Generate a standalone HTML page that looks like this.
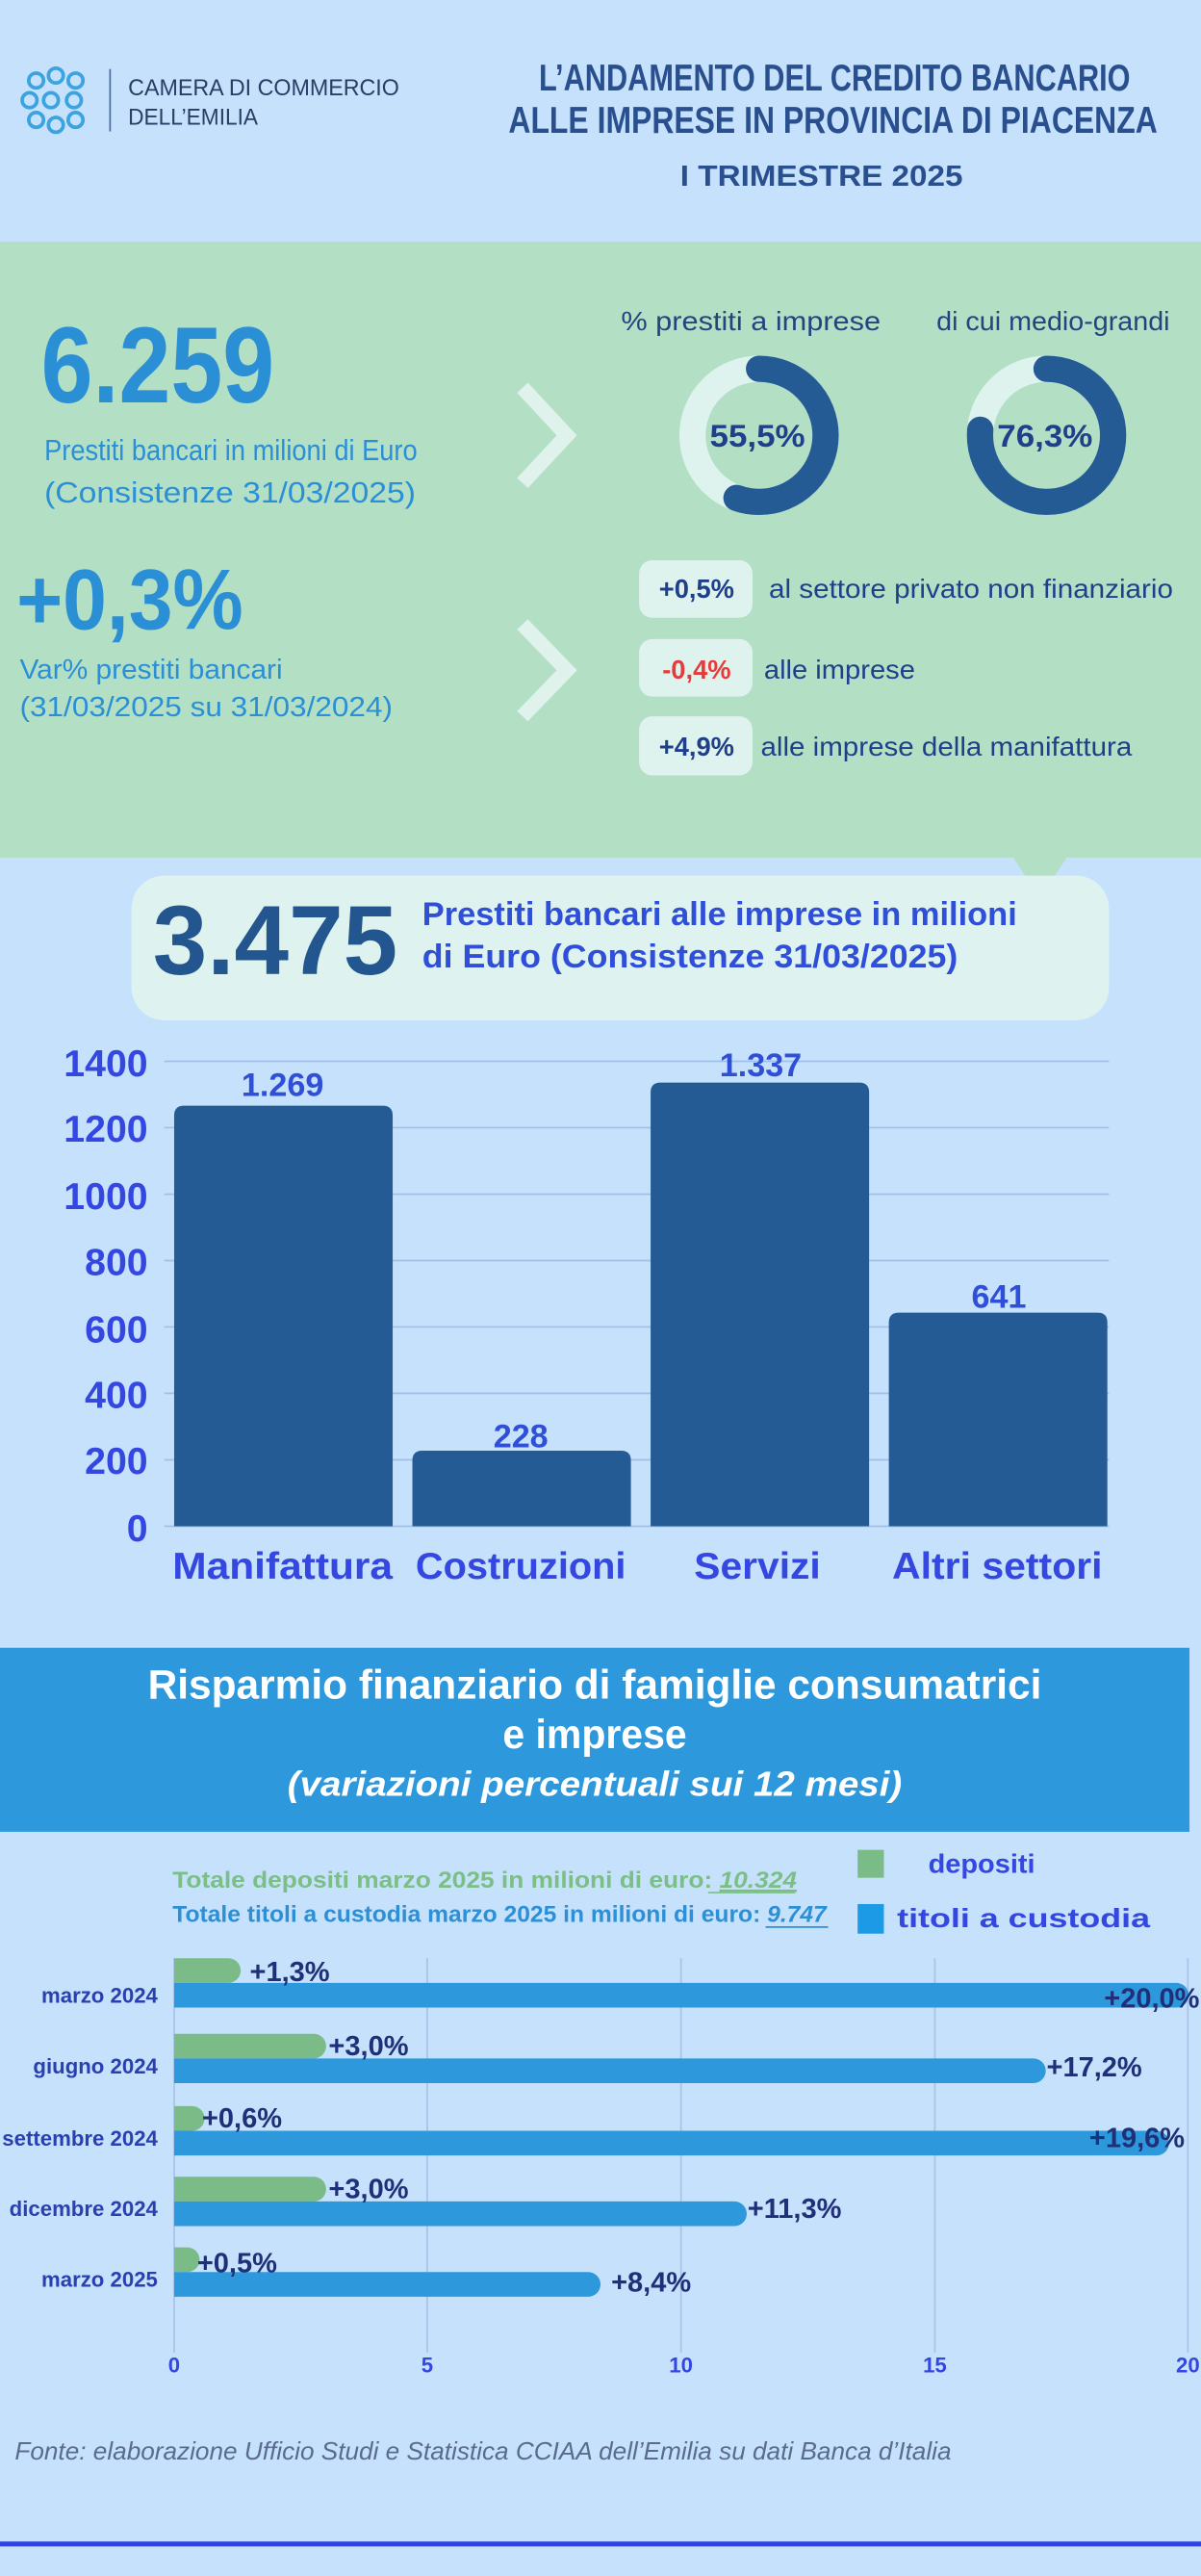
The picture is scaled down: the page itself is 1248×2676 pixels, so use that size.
<!DOCTYPE html>
<html><head><meta charset="utf-8"><style>
html,body{margin:0;padding:0;background:#c6e1fb;}
svg{display:block}
text{font-family:"Liberation Sans Narrow","Liberation Sans",sans-serif;}
</style></head><body>
<svg width="1248" height="2676" viewBox="0 0 731 1568" preserveAspectRatio="none" xmlns="http://www.w3.org/2000/svg">
<rect x="0" y="0" width="731" height="1568" fill="#c6e1fb"/>
<!-- header -->
<g fill="none" stroke="#3aa3e0" stroke-width="2.2">
<circle cx="22" cy="49" r="4.5"/><circle cx="34" cy="46" r="4.5"/><circle cx="46" cy="49" r="4.5"/>
<circle cx="18" cy="61" r="4.5"/><circle cx="31" cy="61" r="4.5"/><circle cx="45" cy="61" r="4.5"/>
<circle cx="22" cy="73" r="4.5"/><circle cx="34" cy="76" r="4.5"/><circle cx="46" cy="73" r="4.5"/>
</g>
<line x1="67" y1="42" x2="67" y2="80" stroke="#4a6a9a" stroke-width="1"/>
<text x="78" y="58" font-size="14" fill="#2a3d66" textLength="165" lengthAdjust="spacingAndGlyphs">CAMERA DI COMMERCIO</text>
<text x="78" y="76" font-size="14" fill="#2a3d66" textLength="79" lengthAdjust="spacingAndGlyphs">DELL’EMILIA</text>
<text x="508" y="55" font-size="23" font-weight="bold" fill="#2a4f8f" text-anchor="middle" textLength="360" lengthAdjust="spacingAndGlyphs">L’ANDAMENTO DEL CREDITO BANCARIO</text>
<text x="507" y="81" font-size="23" font-weight="bold" fill="#2a4f8f" text-anchor="middle" textLength="395" lengthAdjust="spacingAndGlyphs">ALLE IMPRESE IN PROVINCIA DI PIACENZA</text>
<text x="500" y="113" font-size="18" font-weight="bold" fill="#2a4f8f" text-anchor="middle" textLength="172" lengthAdjust="spacingAndGlyphs">I TRIMESTRE 2025</text>
<!-- green panel -->
<rect x="0" y="147" width="731" height="375" fill="#b3dfc4"/>
<polygon points="616,521 650,521 640,536 626,536" fill="#b3dfc4"/>
<text x="25" y="245" font-size="66" font-weight="bold" fill="#2b8fd6" textLength="142" lengthAdjust="spacingAndGlyphs">6.259</text>
<text x="27" y="280" font-size="18" fill="#2b8fd6" textLength="227" lengthAdjust="spacingAndGlyphs">Prestiti bancari in milioni di Euro</text>
<text x="27" y="306" font-size="18" fill="#2b8fd6" textLength="226" lengthAdjust="spacingAndGlyphs">(Consistenze 31/03/2025)</text>
<polyline points="318,236 345,265 318,294" fill="none" stroke="#dff2ec" stroke-width="9"/>
<text x="457" y="201" font-size="16" fill="#23457f" text-anchor="middle" textLength="158" lengthAdjust="spacingAndGlyphs">%  prestiti a imprese</text>
<text x="641" y="201" font-size="16" fill="#23457f" text-anchor="middle" textLength="142" lengthAdjust="spacingAndGlyphs">di cui medio-grandi</text>
<circle cx="462" cy="265" r="40.5" fill="none" stroke="#dff3ee" stroke-width="16"/>
<circle cx="462" cy="265" r="40.5" fill="none" stroke="#245b95" stroke-width="16" stroke-dasharray="141.2 300" transform="rotate(-90 462 265)" stroke-linecap="round"/>
<text x="461" y="272" font-size="19" font-weight="bold" fill="#1f3f8a" text-anchor="middle" textLength="58" lengthAdjust="spacingAndGlyphs">55,5%</text>
<circle cx="637" cy="265" r="40.5" fill="none" stroke="#dff3ee" stroke-width="16"/>
<circle cx="637" cy="265" r="40.5" fill="none" stroke="#245b95" stroke-width="16" stroke-dasharray="194.2 300" transform="rotate(-90 637 265)" stroke-linecap="round"/>
<text x="636" y="272" font-size="19" font-weight="bold" fill="#1f3f8a" text-anchor="middle" textLength="58" lengthAdjust="spacingAndGlyphs">76,3%</text>
<text x="10" y="383" font-size="52" font-weight="bold" fill="#2b8fd6" textLength="138" lengthAdjust="spacingAndGlyphs">+0,3%</text>
<text x="12" y="413" font-size="17" fill="#2b8fd6" textLength="160" lengthAdjust="spacingAndGlyphs">Var% prestiti bancari</text>
<text x="12" y="436" font-size="17" fill="#2b8fd6" textLength="227" lengthAdjust="spacingAndGlyphs">(31/03/2025 su 31/03/2024)</text>
<polyline points="318,380 345,408 318,436" fill="none" stroke="#dff2ec" stroke-width="9"/>
<rect x="389" y="341" width="69" height="35" rx="8" fill="#dff3ee"/>
<text x="424" y="364" font-size="16" font-weight="bold" fill="#1f3f8a" text-anchor="middle">+0,5%</text>
<text x="468" y="364" font-size="16" fill="#1f3f8a" textLength="246" lengthAdjust="spacingAndGlyphs">al settore privato non finanziario</text>
<rect x="389" y="389" width="69" height="35" rx="8" fill="#dff3ee"/>
<text x="424" y="413" font-size="16" font-weight="bold" fill="#e63b3b" text-anchor="middle">-0,4%</text>
<text x="465" y="413" font-size="16" fill="#1f3f8a" textLength="92" lengthAdjust="spacingAndGlyphs">alle imprese</text>
<rect x="389" y="436" width="69" height="36" rx="8" fill="#dff3ee"/>
<text x="424" y="460" font-size="16" font-weight="bold" fill="#1f3f8a" text-anchor="middle">+4,9%</text>
<text x="463" y="460" font-size="16" fill="#1f3f8a" textLength="226" lengthAdjust="spacingAndGlyphs">alle imprese della manifattura</text>
<!-- 3.475 box -->
<rect x="80" y="533" width="595" height="88" rx="20" fill="#def3ef"/>
<text x="93" y="593" font-size="60" font-weight="bold" fill="#23558f" textLength="149" lengthAdjust="spacingAndGlyphs">3.475</text>
<text x="257" y="563" font-size="20" font-weight="bold" fill="#2f4fd8" textLength="362" lengthAdjust="spacingAndGlyphs">Prestiti bancari alle imprese in milioni</text>
<text x="257" y="589" font-size="20" font-weight="bold" fill="#2f4fd8" textLength="326" lengthAdjust="spacingAndGlyphs">di Euro (Consistenze 31/03/2025)</text>
<!-- bar chart -->
<g stroke="#a2bfe8" stroke-width="1">
<line x1="100" y1="646" x2="675" y2="646"/><line x1="100" y1="686.4" x2="675" y2="686.4"/>
<line x1="100" y1="726.9" x2="675" y2="726.9"/><line x1="100" y1="767.3" x2="675" y2="767.3"/>
<line x1="100" y1="807.7" x2="675" y2="807.7"/><line x1="100" y1="848.1" x2="675" y2="848.1"/>
<line x1="100" y1="888.6" x2="675" y2="888.6"/><line x1="100" y1="929" x2="675" y2="929"/>
</g>
<g font-size="23" font-weight="bold" fill="#3447e0" text-anchor="end">
<text x="90" y="655">1400</text><text x="90" y="695">1200</text><text x="90" y="736">1000</text>
<text x="90" y="776">800</text><text x="90" y="817">600</text><text x="90" y="857">400</text>
<text x="90" y="897">200</text><text x="90" y="938">0</text>
</g>
<g fill="#245b95">
<path d="M106,929 V679 q0,-6 6,-6 H233 q6,0 6,6 V929 Z"/>
<path d="M251,929 V889 q0,-6 6,-6 H378 q6,0 6,6 V929 Z"/>
<path d="M396,929 V665 q0,-6 6,-6 H523 q6,0 6,6 V929 Z"/>
<path d="M541,929 V805 q0,-6 6,-6 H668 q6,0 6,6 V929 Z"/>
</g>
<g font-size="20" font-weight="bold" fill="#2f4fd8" text-anchor="middle">
<text x="172" y="667">1.269</text><text x="317" y="881">228</text>
<text x="463" y="655">1.337</text><text x="608" y="796">641</text>
</g>
<g font-size="23" font-weight="bold" fill="#3447e0" text-anchor="middle">
<text x="172" y="961" textLength="134" lengthAdjust="spacingAndGlyphs">Manifattura</text>
<text x="317" y="961" textLength="128" lengthAdjust="spacingAndGlyphs">Costruzioni</text>
<text x="461" y="961" textLength="77" lengthAdjust="spacingAndGlyphs">Servizi</text>
<text x="607" y="961" textLength="128" lengthAdjust="spacingAndGlyphs">Altri settori</text>
</g>
<!-- blue banner -->
<rect x="0" y="1003" width="724" height="112" fill="#2d98dc"/>
<text x="362" y="1034" font-size="25" font-weight="bold" fill="#fff" text-anchor="middle" textLength="544" lengthAdjust="spacingAndGlyphs">Risparmio finanziario di famiglie consumatrici</text>
<text x="362" y="1064" font-size="25" font-weight="bold" fill="#fff" text-anchor="middle" textLength="112" lengthAdjust="spacingAndGlyphs">e imprese</text>
<text x="362" y="1093" font-size="21" font-weight="bold" font-style="italic" fill="#fff" text-anchor="middle" textLength="374" lengthAdjust="spacingAndGlyphs">(variazioni percentuali sui 12 mesi)</text>
<!-- totals and legend -->
<text x="105" y="1149" font-size="14" font-weight="bold" fill="#7bbf87" textLength="380" lengthAdjust="spacingAndGlyphs">Totale depositi marzo 2025 in milioni di euro: <tspan font-style="italic" text-decoration="underline">10.324</tspan></text>
<line x1="431" y1="1152" x2="484" y2="1152" stroke="#7bbf87" stroke-width="1"/>
<text x="105" y="1170" font-size="14" font-weight="bold" fill="#2d8fd6" textLength="398" lengthAdjust="spacingAndGlyphs">Totale titoli a custodia marzo 2025 in milioni di euro: <tspan font-style="italic">9.747</tspan></text>
<line x1="466" y1="1173" x2="504" y2="1173" stroke="#2d8fd6" stroke-width="1"/>
<rect x="522" y="1126" width="16" height="17" fill="#7bbb87"/>
<text x="565" y="1140" font-size="16" font-weight="bold" fill="#3447e0" textLength="65" lengthAdjust="spacingAndGlyphs">depositi</text>
<rect x="522" y="1159" width="16" height="18" fill="#1c9ae6"/>
<text x="546" y="1173" font-size="16" font-weight="bold" fill="#3447e0" textLength="154" lengthAdjust="spacingAndGlyphs">titoli a custodia</text>
<!-- horizontal chart -->
<g stroke="#a8c2e8" stroke-width="1">
<line x1="106" y1="1192" x2="106" y2="1432"/><line x1="260" y1="1192" x2="260" y2="1432"/>
<line x1="414.5" y1="1192" x2="414.5" y2="1432"/><line x1="569" y1="1192" x2="569" y2="1432"/>
<line x1="723" y1="1192" x2="723" y2="1432"/>
</g>
<g font-size="13" font-weight="bold" fill="#3447e0" text-anchor="middle">
<text x="106" y="1444">0</text><text x="260" y="1444">5</text><text x="414.5" y="1444">10</text><text x="569" y="1444">15</text><text x="723" y="1444">20</text>
</g>
<g font-size="13" font-weight="bold" fill="#2a3fb0" text-anchor="end">
<text x="96" y="1219">marzo 2024</text><text x="96" y="1262">giugno 2024</text>
<text x="96" y="1306">settembre 2024</text><text x="96" y="1349">dicembre 2024</text>
<text x="96" y="1392">marzo 2025</text>
</g>
<g fill="#7bbb87">
<path d="M106,1192 H139 a7.5,7.5 0 0 1 0,15 H106 Z"/>
<path d="M106,1238 H191 a7.5,7.5 0 0 1 0,15 H106 Z"/>
<path d="M106,1282 H117 a7.5,7.5 0 0 1 0,15 H106 Z"/>
<path d="M106,1325 H191 a7.5,7.5 0 0 1 0,15 H106 Z"/>
<path d="M106,1368 H114 a7.5,7.5 0 0 1 0,15 H106 Z"/>
</g>
<g fill="#2d98dc">
<path d="M106,1207 H716 a7.5,7.5 0 0 1 0,15 H106 Z"/>
<path d="M106,1253 H629 a7.5,7.5 0 0 1 0,15 H106 Z"/>
<path d="M106,1297 H704 a7.5,7.5 0 0 1 0,15 H106 Z"/>
<path d="M106,1340 H447 a7.5,7.5 0 0 1 0,15 H106 Z"/>
<path d="M106,1383 H358 a7.5,7.5 0 0 1 0,15 H106 Z"/>
</g>
<g font-size="17" font-weight="bold" fill="#1f2f78">
<text x="152" y="1206">+1,3%</text><text x="200" y="1251">+3,0%</text>
<text x="123" y="1295">+0,6%</text><text x="200" y="1338">+3,0%</text>
<text x="120" y="1383">+0,5%</text>
<text x="672" y="1222">+20,0%</text><text x="637" y="1264">+17,2%</text>
<text x="663" y="1307">+19,6%</text><text x="455" y="1350">+11,3%</text>
<text x="372" y="1395">+8,4%</text>
</g>
<text x="9" y="1497" font-size="15" font-style="italic" fill="#5a6b90" textLength="570" lengthAdjust="spacingAndGlyphs">Fonte: elaborazione Ufficio Studi e Statistica CCIAA dell’Emilia su dati Banca d’Italia</text>
<rect x="0" y="1547" width="731" height="3" fill="#2f45e0"/>
</svg>
</body></html>
